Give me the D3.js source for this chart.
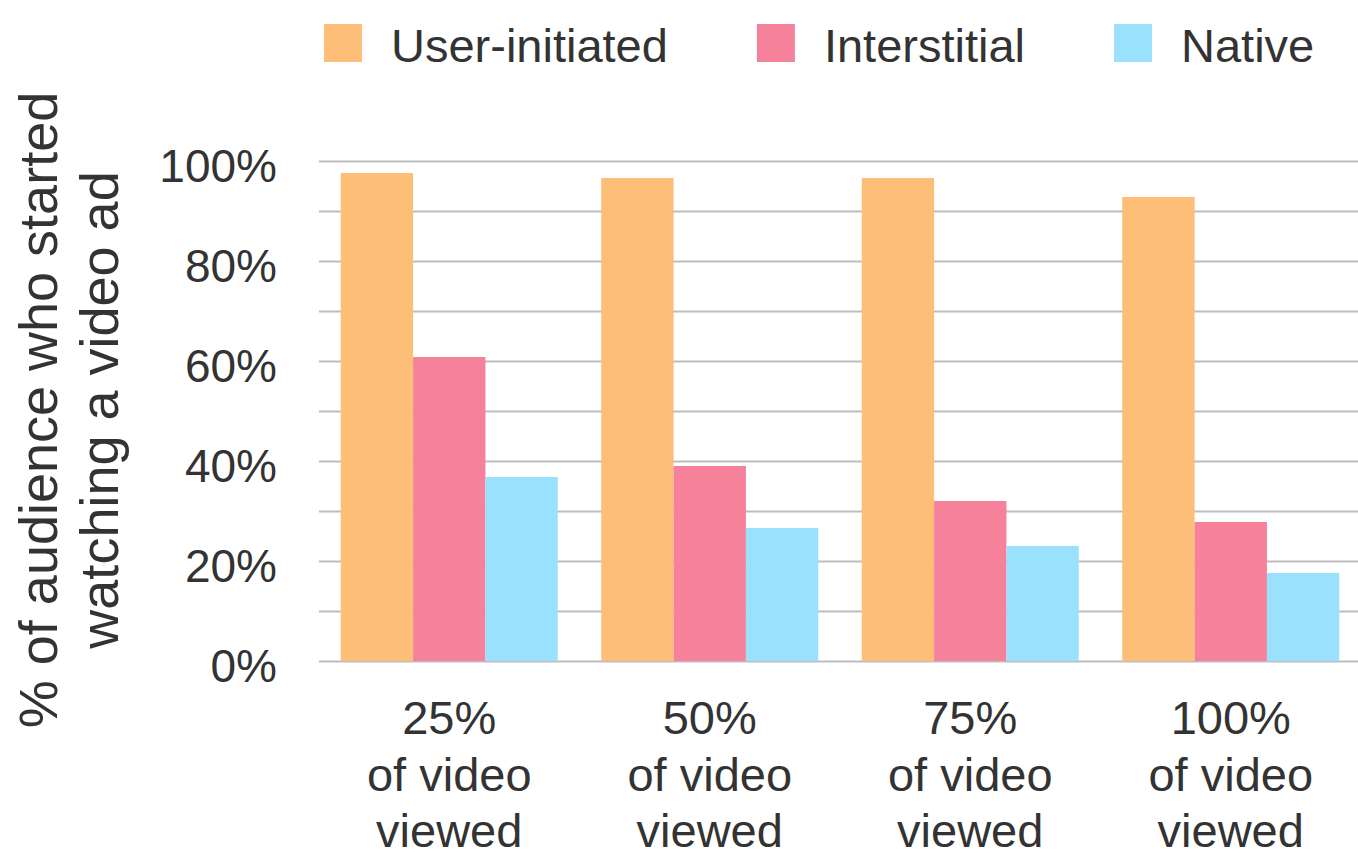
<!DOCTYPE html>
<html>
<head>
<meta charset="utf-8">
<script src="https://cdn.jsdelivr.net/npm/d3@7"></script>
<style>
  body { margin: 0; background: #fff; }
  svg text { font-family: "Liberation Sans", Arial, Helvetica, sans-serif; fill: #333; }
</style>
</head>
<body>
<svg id="chart"></svg>
<script>
// values (percent of audience)
const categories    = ["25%", "50%", "75%", "100%"];
const subLines      = ["of video", "viewed"];
const series        = ["User-initiated", "Interstitial", "Native"];
const userInitiated = [97.6, 96.6, 96.6, 92.8];
const interstitial  = [60.8, 39.0, 32.0, 27.8];
const nativeAds     = [36.8, 26.6, 23.0, 17.6];
const yTicks        = [0, 20, 40, 60, 80, 100];
const yTitle        = ["% of audience who started", "watching a video ad"];

const colors = ["#fdbe78", "#f5819b", "#99e1fd"];
const values = [userInitiated, interstitial, nativeAds];

let width     = 1358,
    height    = 854,
    gridLeft  = 318,
    plotLeft  = 319,
    plotRight = 1361,
    plotTop   = 161,
    plotBot   = 661;

let svg = d3.select('#chart')
    .attr('width', width)
    .attr('height', height);

let x0 = d3.scaleBand()
    .domain(categories)
    .range([plotLeft, plotRight])
    .paddingInner(0.167)
    .paddingOuter(0.0835);

let x1 = d3.scaleBand()
    .domain(series)
    .range([0, x0.bandwidth()]);

let y = d3.scaleLinear()
    .domain([0, 100])
    .range([plotBot, plotTop]);

// grid lines every 10%
svg.append('g')
    .attr('class', 'grid')
    .attr('transform', `translate(${gridLeft + 1},0)`)
    .call(d3.axisLeft(y).ticks(10).tickSize(-(width - gridLeft)).tickFormat(''))
    .call(g => g.select('.domain').remove())
    .call(g => g.selectAll('line').attr('stroke', '#bdbdbd').attr('stroke-width', 2));

// y tick labels
svg.append('g')
    .attr('transform', `translate(277,0)`)
    .call(d3.axisLeft(y).tickValues(yTicks).tickSize(0).tickPadding(0).tickFormat(d => d + '%'))
    .call(g => g.select('.domain').remove())
    .call(g => g.selectAll('text')
        .attr('font-size', 46)
        .attr('dy', '0.45em')
        .style('font-family', '"Liberation Sans", Arial, sans-serif')
        .attr('fill', '#333'));

// bars
let rows = categories.map((c, i) => ({cat: c, vals: series.map((s, j) => ({s: s, v: values[j][i], j: j}))}));

svg.append('g')
    .selectAll('g')
    .data(rows)
    .enter()
    .append('g')
    .attr('transform', d => `translate(${x0(d.cat)},0)`)
    .selectAll('rect')
    .data(d => d.vals)
    .enter()
    .append('rect')
    .attr('x', d => x1(d.s))
    .attr('width', x1.bandwidth())
    .attr('y', d => y(d.v))
    .attr('height', d => y(0) - y(d.v))
    .attr('fill', d => colors[d.j]);

// x category labels (three lines)
let xl = svg.append('g')
    .selectAll('text')
    .data(categories)
    .enter()
    .append('text')
    .attr('text-anchor', 'middle')
    .attr('font-size', 47)
    .attr('x', d => x0(d) + x0.bandwidth() / 2)
    .attr('y', 734);

xl.append('tspan').text(d => d);
subLines.forEach((line, k) => {
    xl.append('tspan')
        .attr('x', d => x0(d) + x0.bandwidth() / 2)
        .attr('y', 734 + 56.5 * (k + 1))
        .text(line);
});

// y axis title
svg.append('text')
    .attr('transform', 'translate(0,410) rotate(-90)')
    .attr('text-anchor', 'middle')
    .attr('font-size', 54)
    .selectAll('tspan')
    .data(yTitle)
    .enter()
    .append('tspan')
    .attr('x', 0)
    .attr('y', (d, i) => 57 + i * 61)
    .text(d => d);

// legend
let lx = 324;
series.forEach((s, i) => {
    svg.append('rect')
        .attr('x', lx)
        .attr('y', 24)
        .attr('width', 38)
        .attr('height', 38)
        .attr('fill', colors[i]);
    let t = svg.append('text')
        .attr('x', lx + 67)
        .attr('y', 62)
        .attr('font-size', 47)
        .text(s);
    lx = lx + 67 + t.node().getComputedTextLength() + 89;
});
</script>
</body>
</html>
